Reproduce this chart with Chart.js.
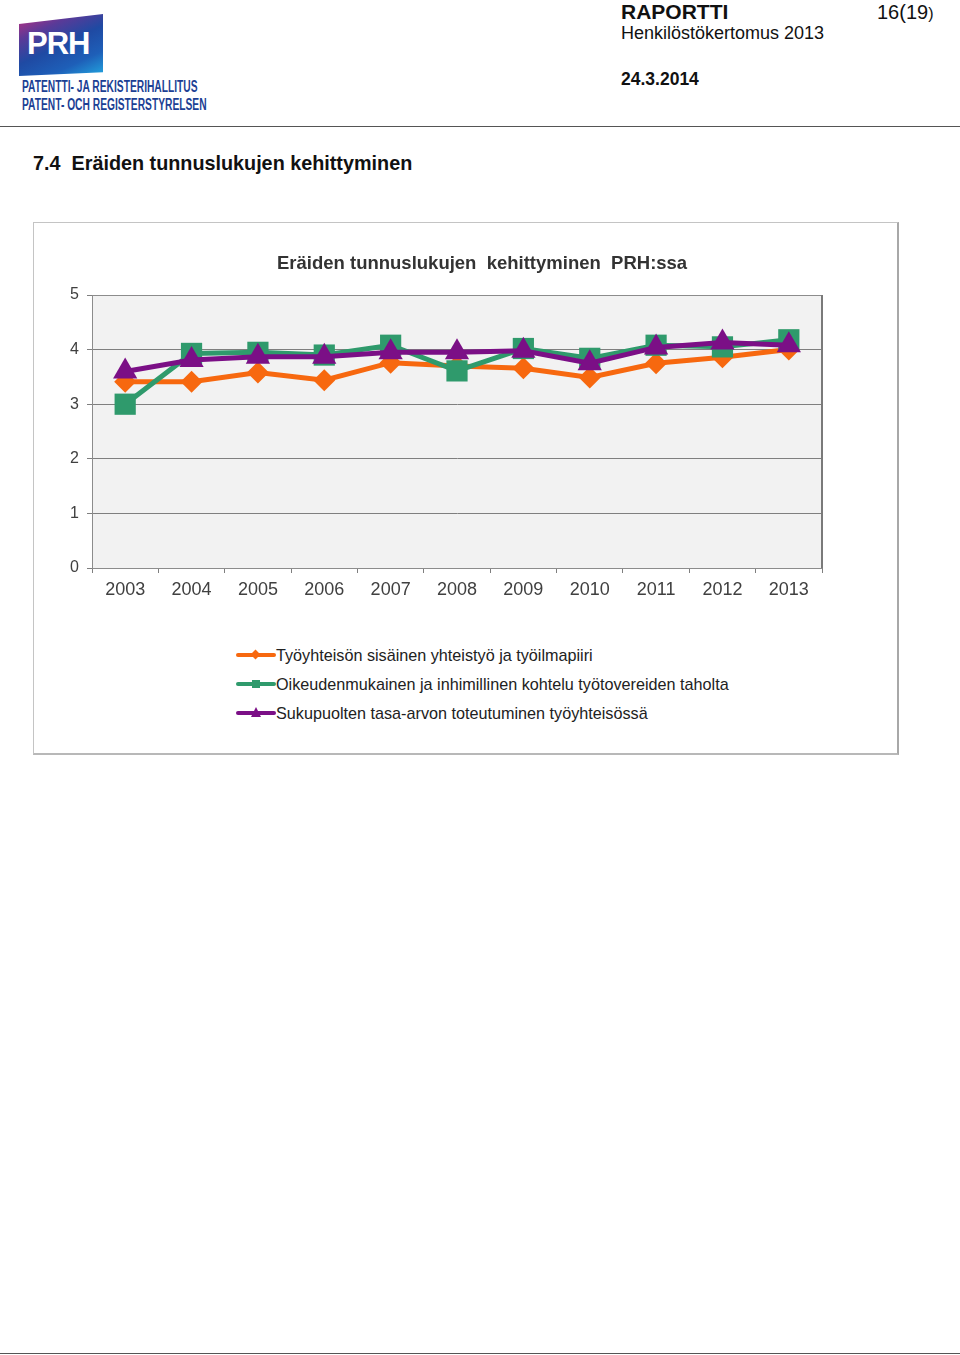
<!DOCTYPE html>
<html lang="fi">
<head>
  <meta charset="UTF-8">
  <title>Eräiden tunnuslukujen kehittyminen</title>
  <script src="https://cdn.jsdelivr.net/npm/chart.js"></script>
  <style>
    body {
      margin: 0;
      width: 960px;
      height: 1355px;
      position: relative;
      background: #fff;
      font-family: Arial, "Liberation Sans", sans-serif;
      color: #111;
      overflow: hidden;
    }
    .abs { position: absolute; white-space: nowrap; }

    #logo {
      left: 19px; top: 14px; width: 84px; height: 62px;
      background: linear-gradient(155deg, #c2307f 0%, #5a3a98 26%, #1f4aa3 50%, #1e5fb8 75%, #22a6e0 100%);
      clip-path: polygon(0 16%, 100% 0, 100% 94%, 0 100%);
    }
    #logo span {
      position: absolute; left: 8px; top: 12px;
      color: #fff; font-weight: bold; font-size: 31px; letter-spacing: -1px;
    }
    .org {
      left: 22px; color: #1c3f94; font-weight: bold; font-size: 16px;
      transform: scaleX(0.64);
      transform-origin: left center;
    }
    #rule1 { left: 0; top: 126px; width: 960px; height: 1px; background: #555; }
    #rule2 { left: 0; top: 1353px; width: 960px; height: 1px; background: #555; }

    #box {
      left: 33px; top: 222px; width: 863px; height: 530px;
      border: 1px solid #c4c4c4;
      border-right: 2px solid #a8a8a8;
      border-bottom: 2px solid #b8b8b8;
      background: #fff;
    }
    #chartWrap { left: 34px; top: 223px; width: 864px; height: 380px; }
    #chartTitle { left: 277px; top: 252px; font-size: 18.5px; font-weight: bold; color: #333; }

    .leg { left: 236px; font-size: 16.2px; color: #222; height: 20px; line-height: 20px; }
    .leg .ln { position: absolute; left: 0; top: 8px; width: 40px; height: 4px; border-radius: 2px; }
    .leg .mk { position: absolute; }
    .leg .mk.rectRot { left: 16px; top: 6px; width: 7px; height: 7px; transform: rotate(45deg); }
    .leg .mk.rect { left: 16px; top: 6px; width: 8px; height: 8px; }
    .leg .mk.triangle { left: 15px; top: 4px; width: 10px; height: 10px; clip-path: polygon(50% 0, 100% 100%, 0 100%); }
    .leg .tx { position: absolute; left: 40px; top: 0; }
  </style>
</head>
<body>
<div id="logo" class="abs"><span>PRH</span></div>
<div class="abs org" style="top:78px;">PATENTTI- JA REKISTERIHALLITUS</div>
<div class="abs org" style="top:96px;">PATENT- OCH REGISTERSTYRELSEN</div>

<div class="abs" style="left:621px; top:0px; font-size:21px; font-weight:bold;">RAPORTTI</div>
<div class="abs" style="left:877px; top:1px; font-size:20px;">16(19<span style="font-size:16px">)</span></div>
<div class="abs" style="left:621px; top:23px; font-size:18px;">Henkilöstökertomus 2013</div>
<div class="abs" style="left:621px; top:69px; font-size:17.5px; font-weight:bold;">24.3.2014</div>
<div id="rule1" class="abs"></div>

<div class="abs" style="left:33px; top:152px; font-size:19.8px; font-weight:bold;">7.4&nbsp; Eräiden tunnuslukujen kehittyminen</div>

<div id="box" class="abs"></div>
<div id="chartWrap" class="abs"><canvas id="chart" width="864" height="380"></canvas></div>
<div id="chartTitle" class="abs">Eräiden tunnuslukujen&nbsp; kehittyminen&nbsp; PRH:ssa</div>
<div id="legend"></div>

<div id="rule2" class="abs"></div>

<script>
    // years on the x axis
    const years = ['2003', '2004', '2005', '2006', '2007', '2008', '2009', '2010', '2011', '2012', '2013'];

    // series names as in the legend
    const seriesNames = [
        'Työyhteisön sisäinen yhteistyö ja työilmapiiri',
        'Oikeudenmukainen ja inhimillinen kohtelu työtovereiden taholta',
        'Sukupuolten tasa-arvon toteutuminen työyhteisössä'
    ];

    // values (scale 0-5)
    const cooperation = [3.41, 3.41, 3.58, 3.44, 3.76, 3.70, 3.66, 3.49, 3.75, 3.86, 4.00];
    const fairTreatment = [3.00, 3.93, 3.95, 3.90, 4.08, 3.61, 4.02, 3.84, 4.08, 4.05, 4.18];
    const equality = [3.60, 3.81, 3.87, 3.87, 3.95, 3.95, 3.98, 3.75, 4.04, 4.13, 4.08];

    const yTicks = [0, 1, 2, 3, 4, 5];

    const colors = ['#f7680f', '#2f9a6c', '#7b0f86'];
    const markers = ['rectRot', 'rect', 'triangle'];
    const markerSizes = [11, 15, 14];

    const values = [cooperation, fairTreatment, equality];

    // grey plot area with a frame
    const plotFrame = {
        id: 'plotFrame',
        beforeDraw(chart) {
            const a = chart.chartArea;
            const ctx = chart.ctx;
            ctx.save();
            ctx.fillStyle = '#f2f2f2';
            ctx.fillRect(a.left, a.top, a.right - a.left, a.bottom - a.top);
            ctx.restore();
        },
        afterDatasetsDraw(chart) {
            const a = chart.chartArea;
            const ctx = chart.ctx;
            ctx.save();
            ctx.strokeStyle = '#8c8c8c';
            ctx.lineWidth = 1;
            ctx.strokeRect(a.left + 0.5, a.top + 0.5, a.right - a.left - 1, a.bottom - a.top);
            ctx.strokeStyle = '#7a7a7a';
            ctx.lineWidth = 2;
            ctx.beginPath();
            ctx.moveTo(a.right, a.top);
            ctx.lineTo(a.right, a.bottom);
            ctx.stroke();
            ctx.restore();
        }
    };

    const ctx = document.getElementById('chart').getContext('2d');
    new Chart(ctx, {
        type: 'line',
        data: {
            labels: years,
            datasets: values.map((v, i) => ({
                label: seriesNames[i],
                data: v,
                borderColor: colors[i],
                backgroundColor: colors[i],
                borderWidth: 5,
                pointStyle: markers[i],
                pointRadius: markerSizes[i],
                pointBorderWidth: 0,
                tension: 0,
                order: 3 - i
            }))
        },
        options: {
            responsive: false,
            animation: false,
            layout: { padding: { left: 0, right: 76, top: 72, bottom: 0 } },
            plugins: {
                legend: { display: false },
                tooltip: { enabled: false }
            },
            scales: {
                x: {
                    offset: true,
                    grid: {
                        offset: true,
                        drawOnChartArea: false,
                        color: '#7f7f7f',
                        tickLength: 5
                    },
                    border: { color: '#7f7f7f' },
                    ticks: {
                        color: '#404040',
                        padding: 6,
                        maxRotation: 0,
                        font: { family: 'Arial, "Liberation Sans", sans-serif', size: 18 }
                    },
                    afterFit(scale) { scale.height = 35; }
                },
                y: {
                    min: 0,
                    max: 5,
                    afterBuildTicks(scale) { scale.ticks = yTicks.map(v => ({ value: v })); },
                    grid: { color: '#7f7f7f', tickLength: 5 },
                    border: { color: '#7f7f7f' },
                    ticks: {
                        color: '#404040',
                        padding: 8,
                        font: { family: 'Arial, "Liberation Sans", sans-serif', size: 16 }
                    },
                    afterFit(scale) { scale.width = 58; }
                }
            }
        },
        plugins: [plotFrame]
    });

    // legend stacked vertically below the plot
    const legend = document.getElementById('legend');
    seriesNames.forEach((name, i) => {
        const row = document.createElement('div');
        row.className = 'abs leg';
        row.style.top = (645 + i * 29) + 'px';
        row.innerHTML = '<span class="ln" style="background:' + colors[i] + '"></span>' +
            '<span class="mk ' + markers[i] + '" style="background:' + colors[i] + '"></span>' +
            '<span class="tx">' + name + '</span>';
        legend.appendChild(row);
    });
</script>
</body>
</html>
